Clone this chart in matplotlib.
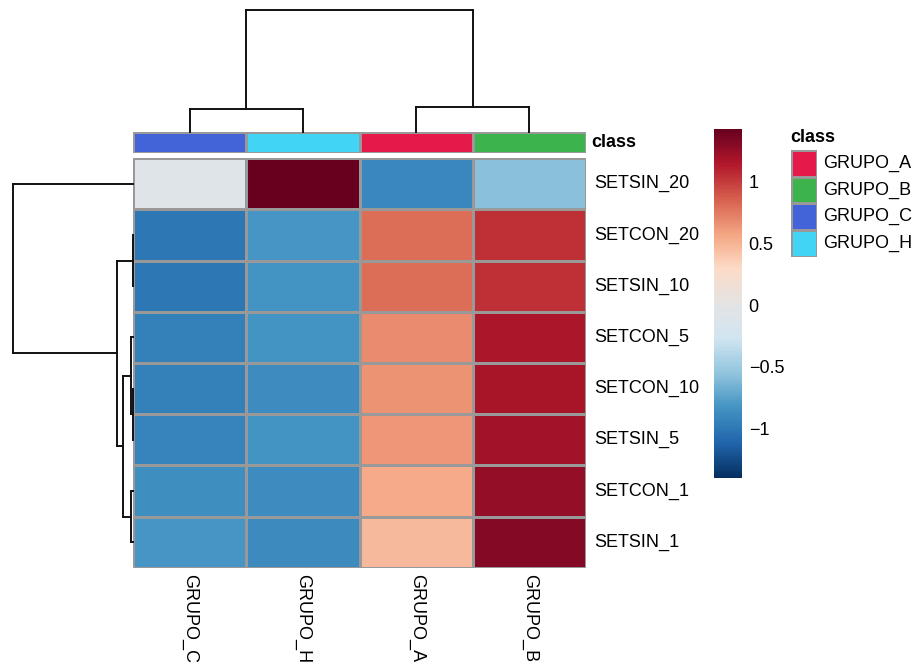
import numpy as np
import matplotlib
matplotlib.use("Agg")
import matplotlib.pyplot as plt
from matplotlib.colors import LinearSegmentedColormap, ListedColormap

plt.rcParams['font.family'] = ['Liberation Sans', 'DejaVu Sans']

# Data (row-scaled values, as displayed after clustering)
row_labels = ['SETSIN_20', 'SETCON_20', 'SETSIN_10', 'SETCON_5',
              'SETCON_10', 'SETSIN_5', 'SETCON_1', 'SETSIN_1']
col_labels = ['GRUPO_C', 'GRUPO_H', 'GRUPO_A', 'GRUPO_B']
values = [
    [-0.08, 1.43, -0.91, -0.58],
    [-1.01, -0.82, 0.80, 1.05],
    [-1.01, -0.83, 0.81, 1.05],
    [-0.95, -0.83, 0.68, 1.17],
    [-0.95, -0.87, 0.65, 1.18],
    [-0.93, -0.83, 0.64, 1.20],
    [-0.86, -0.88, 0.55, 1.26],
    [-0.82, -0.89, 0.47, 1.31],
]
# merge heights of the clustering trees (child a, child b, height)
row_merges = [(1, 2, 0.004), (4, 5, 0.004), (3, 9, 0.017), (6, 7, 0.017),
              (10, 11, 0.086), (8, 12, 0.136), (0, 13, 1.0)]
col_merges = [(0, 1, 0.19), (2, 3, 0.207), (4, 5, 1.0)]

classes = ['GRUPO_A', 'GRUPO_B', 'GRUPO_C', 'GRUPO_H']
class_colors = ['#e6194b', '#3cb44b', '#4363d8', '#42d4f4']
col_class = ['GRUPO_C', 'GRUPO_H', 'GRUPO_A', 'GRUPO_B']

vmin, vmax = -1.40, 1.43

W, H = 916, 665
fig = plt.figure(figsize=(W / 100, H / 100), dpi=100)


def ax_px(x0, y0, x1, y1):
    """Axes placed by pixel box (top-left origin)"""
    return fig.add_axes([x0 / W, 1 - y1 / H, (x1 - x0) / W, (y1 - y0) / H])


def dendro_segments(merges, n):
    pos = {i: i + 0.5 for i in range(n)}
    hgt = {i: 0.0 for i in range(n)}
    segs = []
    for k, (a, b, h) in enumerate(merges):
        segs.append(((pos[a], hgt[a]), (pos[a], h)))
        segs.append(((pos[b], hgt[b]), (pos[b], h)))
        segs.append(((pos[a], h), (pos[b], h)))
        pos[n + k] = (pos[a] + pos[b]) / 2
        hgt[n + k] = h
    return segs


cmap = LinearSegmentedColormap.from_list('rdbu', [
    '#053061', '#2166ac', '#4393c3', '#92c5de', '#d1e5f0', '#e4e4e4',
    '#fddbc7', '#f4a582', '#d6604d', '#b2182b', '#67001f'], N=256)

hx0, hx1, hy0, hy1 = 133.3, 586, 158.3, 567.7
nr, nc = len(row_labels), len(col_labels)
row_h = (hy1 - hy0) / nr
col_w = (hx1 - hx0) / nc

# Heatmap
ax = ax_px(hx0, hy0, hx1, hy1)
mesh = ax.pcolormesh(np.array(values), cmap=cmap, vmin=vmin, vmax=vmax,
                     edgecolors='#999999', linewidth=0.75)
ax.set_xlim(0, nc)
ax.set_ylim(nr, 0)
ax.set_axis_off()

for i, lab in enumerate(row_labels):
    fig.text(594 / W, 1 - (hy0 + (i + 0.5) * row_h) / H, lab,
             fontsize=13, ha='left', va='center')
for j, lab in enumerate(col_labels):
    fig.text((hx0 + (j + 0.5) * col_w) / W, 1 - 574 / H, lab,
             fontsize=13, ha='center', va='top', rotation=270)

# Annotation bar
ax_ann = ax_px(hx0, 131.7, hx1, 152.7)
ann_idx = [[classes.index(c) for c in col_class]]
ax_ann.pcolormesh(np.array(ann_idx), cmap=ListedColormap(class_colors),
                  vmin=-0.5, vmax=len(classes) - 0.5,
                  edgecolors='#999999', linewidth=0.75)
ax_ann.set_xlim(0, nc)
ax_ann.set_axis_off()
fig.text(591 / W, 1 - 142.5 / H, 'class', fontsize=13, fontweight='bold',
         ha='left', va='center')

# Column dendrogram
ax_cd = ax_px(hx0, 10, hx1, 131.7)
for (x0, y0), (x1, y1) in dendro_segments(col_merges, nc):
    ax_cd.plot([x0, x1], [y0, y1], color='#111111', lw=1.4, clip_on=False,
               solid_capstyle='projecting')
ax_cd.set_xlim(0, nc)
ax_cd.set_ylim(0, 1.0)
ax_cd.set_axis_off()

# Row dendrogram
ax_rd = ax_px(13, hy0, hx0, hy1)
for (p0, h0), (p1, h1) in dendro_segments(row_merges, nr):
    ax_rd.plot([h0, h1], [p0, p1], color='#111111', lw=1.4, clip_on=False,
               solid_capstyle='projecting')
ax_rd.set_xlim(1.0, 0)
ax_rd.set_ylim(nr, 0)
ax_rd.set_axis_off()

# Colorbar
cax = ax_px(714, 129, 741.7, 477.7)
cb = fig.colorbar(mesh, cax=cax, ticks=[-1, -0.5, 0, 0.5, 1])
cb.outline.set_visible(False)
cb.set_ticklabels(['\u22121', '\u22120.5', '0', '0.5', '1'])
cax.tick_params(length=0, pad=5, labelsize=13)

# Class legend
fig.text(790 / W, 1 - 138 / H, 'class', fontsize=13, fontweight='bold',
         ha='left', va='center')
ax_leg = ax_px(790.7, 150, 817.3, 256.7)
ax_leg.pcolormesh(np.arange(len(classes)).reshape(-1, 1),
                  cmap=ListedColormap(class_colors),
                  vmin=-0.5, vmax=len(classes) - 0.5,
                  edgecolors='#999999', linewidth=0.75)
ax_leg.set_ylim(len(classes), 0)
ax_leg.set_axis_off()
leg_h = (256.7 - 150) / len(classes)
for k, c in enumerate(classes):
    fig.text(823 / W, 1 - (150 + (k + 0.5) * leg_h) / H, c, fontsize=13,
             ha='left', va='center')

fig.savefig('out.png', dpi=100)
